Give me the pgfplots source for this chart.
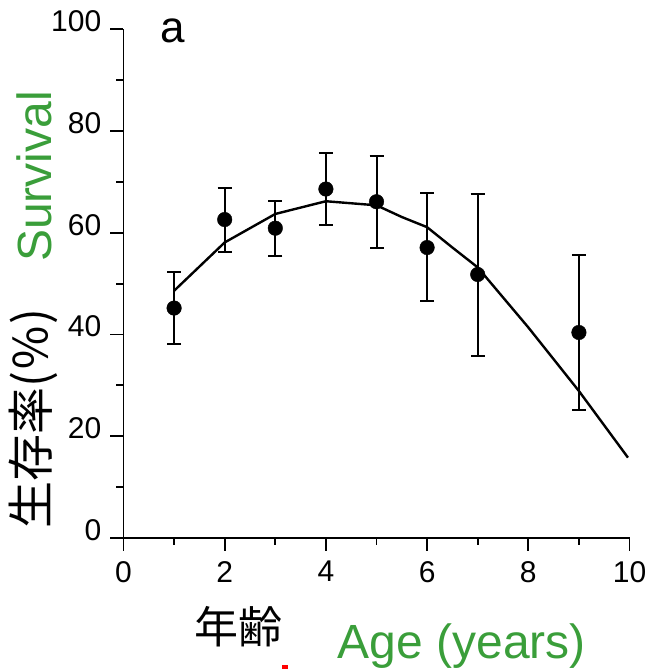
\documentclass[border=0pt]{standalone}
\usepackage{fontspec}
\setmainfont{Liberation Sans}
\newfontfamily\cjk{Noto Sans CJK JP}
\usepackage{pgfplots}
\usepackage{pgfplotstable}
\pgfplotsset{compat=1.18}
\definecolor{lblgreen}{RGB}{58,158,58}

\pgfplotstableread{
x y ep em
1 45.2 7.0 7.1
2 62.6 6.2 6.3
3 60.9 5.3 5.4
4 68.6 7.1 7.0
5 66.1 9.0 9.0
6 57.1 10.8 10.6
7 51.8 15.9 16.1
9 40.4 15.3 15.3
}\obsdata

\pgfplotstableread{
x y
1 48.6
2 58.1
3 63.7
4 66.2
5 65.4
5.5 63.1
6 61.1
6.5 57.1
7 53.2
7.5 47.3
8 41.4
9 28.9
9.97 15.8
}\fitdata

\begin{document}
\begin{tikzpicture}
\useasboundingbox (-123.5pt,-131pt) rectangle (525.5pt,538pt);
\begin{axis}[
  scale only axis,
  width=506pt, height=508.7pt,
  xmin=0, xmax=10, ymin=0, ymax=100,
  axis x line*=bottom, axis y line*=left,
  axis line style={line width=1.9pt, black},
  xtick={0,2,...,10}, ytick={0,20,...,100},
  minor x tick num=1, minor y tick num=1,
  tick align=outside,
  major tick length=13pt, minor tick length=7pt,
  tick style={line width=1.9pt, black},
  /pgf/number format/assume math mode=true,
  ticklabel style={font=\fontsize{30}{36}\selectfont, inner sep=0pt},
  xticklabel style={anchor=north, yshift=-10pt},
  yticklabel style={anchor=east, xshift=-9pt, yshift=8pt},
  clip=false,
]
\addplot[black, line width=2.4pt, no marks] table[x=x, y=y] {\fitdata};
\addplot[only marks, mark=*, mark size=7.3pt, black,
  error bars/.cd, y dir=both, y explicit,
  error bar style={line width=2pt, black},
  error mark options={rotate=90, line width=2pt, mark size=7pt, black}]
  table[x=x, y=y, y error plus=ep, y error minus=em] {\obsdata};
\end{axis}
\node[anchor=base west, inner sep=0pt, font=\fontsize{44}{50}\selectfont] at (36.5pt,495pt) {a};
\node[rotate=90, anchor=base, inner sep=0pt, text=lblgreen, font=\fontsize{48}{56}\selectfont] at (-71.5pt,361.5pt) {Survival};
\node[rotate=90, anchor=center, inner sep=0pt, font=\fontsize{47}{52}\selectfont\cjk] at (-90.5pt,119.5pt) {生存率(％)};
\node[anchor=center, inner sep=0pt, font=\fontsize{44}{50}\selectfont\cjk] at (114.5pt,-89pt) {年齢};
\node[anchor=base west, inner sep=0pt, text=lblgreen, font=\fontsize{48}{56}\selectfont] at (214pt,-120pt) {Age (years)};
\fill[red] (158.5pt,-131pt) rectangle (164.5pt,-127pt);
\end{tikzpicture}
\end{document}
